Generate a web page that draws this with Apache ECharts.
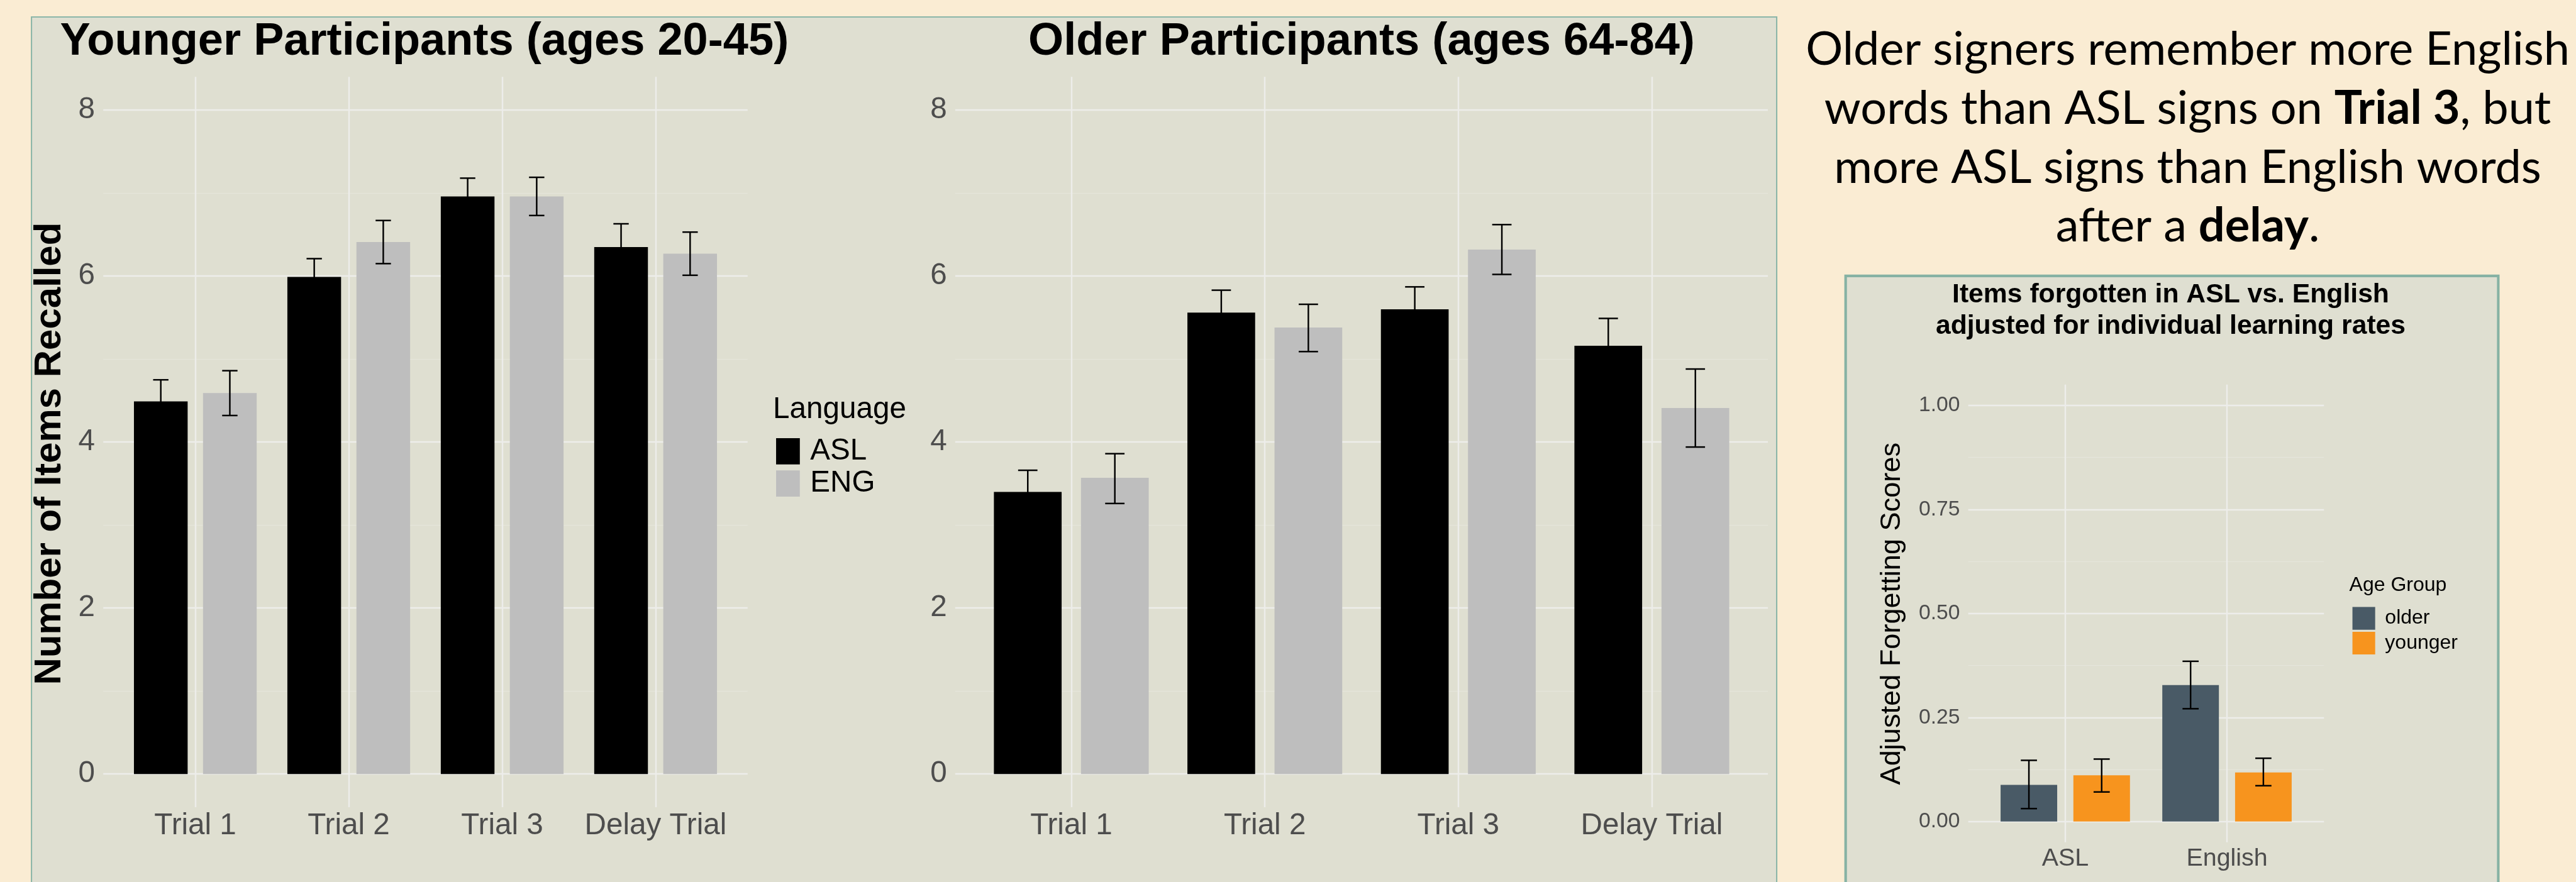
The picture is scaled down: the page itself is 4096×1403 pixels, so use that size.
<!DOCTYPE html>
<html>
<head>
<meta charset="utf-8">
<title>Items recalled in ASL and English</title>
<script src="https://cdn.jsdelivr.net/npm/echarts@6/dist/echarts.min.js"></script>
<style>
  html, body { margin: 0; padding: 0; background: #faecd3; }
  #chart { width: 4096px; height: 1403px; }
</style>
</head>
<body>
<div id="chart"></div>
<script>
// everything was measured on the 4989px wide reference, then scaled
const S = 0.821;
const FONT = '"Liberation Sans", Arial, Helvetica, sans-serif';
const NOTE_FONT = 'Lato, "Open Sans", sans-serif';

const trials = ['Trial 1', 'Trial 2', 'Trial 3', 'Delay Trial'];
const languages = ['ASL', 'ENG'];
const yTicks = [0, 2, 4, 6, 8];
const yMinorTicks = [1, 3, 5, 7];

// younger participants (ages 20-45)
const youngASL = [4.49, 5.99, 6.96, 6.35];
const youngASLLo = [4.23, 5.77, 6.74, 6.07];
const youngASLHi = [4.75, 6.21, 7.18, 6.63];
const youngENG = [4.59, 6.41, 6.96, 6.27];
const youngENGLo = [4.32, 6.15, 6.73, 6.01];
const youngENGHi = [4.86, 6.67, 7.19, 6.53];

// older participants (ages 64-84)
const oldASL = [3.40, 5.56, 5.60, 5.16];
const oldASLLo = [3.14, 5.29, 5.33, 4.83];
const oldASLHi = [3.66, 5.83, 5.87, 5.49];
const oldENG = [3.57, 5.38, 6.32, 4.41];
const oldENGLo = [3.26, 5.09, 6.02, 3.94];
const oldENGHi = [3.86, 5.66, 6.62, 4.88];

// inset: adjusted forgetting scores
const languageGroups = ['ASL', 'English'];
const ageGroups = ['older', 'younger'];
const forgetTicks = [0, 0.25, 0.5, 0.75, 1];
const forgetMinorTicks = [0.125, 0.375, 0.625, 0.875];
const forgetOlder = [0.088, 0.328];
const forgetOlderLo = [0.031, 0.271];
const forgetOlderHi = [0.147, 0.385];
const forgetYounger = [0.111, 0.118];
const forgetYoungerLo = [0.071, 0.086];
const forgetYoungerHi = [0.150, 0.152];

const noteLines = [
  [['Older signers remember more English', false]],
  [['words than ASL signs on ', false], ['Trial 3', true], [', but', false]],
  [['more ASL signs than English words', false]],
  [['after a ', false], ['delay', true], ['.', false]],
];

const GRID_MAJOR = '#ededea';
const GRID_MINOR = '#e6e6dc';
const TICK_COLOR = '#4d4d4d';
const PANEL_FILL = '#dfdfd1';
const PANEL_EDGE = '#8bb6a8';

const s = (v) => v * S;

function xAxisFor(gridIndex, cats, fontSize, labelGap) {
  const pos = cats.map((c, i) => i + 1);
  return {
    type: 'value',
    gridIndex,
    min: 0.4,
    max: cats.length + 0.6,
    axisLine: { show: false },
    axisTick: { show: false, customValues: pos },
    axisLabel: {
      customValues: pos,
      formatter: (v) => cats[Math.round(v) - 1],
      color: TICK_COLOR,
      fontFamily: FONT,
      fontSize: s(fontSize),
      lineHeight: s(fontSize),
      margin: s(labelGap - fontSize / 2),
    },
    splitLine: { show: true, lineStyle: { color: GRID_MAJOR, width: s(3) } },
  };
}

function yAxisFor(gridIndex, min, max, ticks, fontSize, fmt) {
  return {
    type: 'value',
    gridIndex,
    min,
    max,
    axisLine: { show: false },
    axisTick: { show: false, customValues: ticks },
    axisLabel: {
      customValues: ticks,
      formatter: fmt,
      color: TICK_COLOR,
      fontFamily: FONT,
      fontSize: s(fontSize),
      margin: s(16),
    },
    splitLine: { show: true, lineStyle: { color: GRID_MAJOR, width: s(3) } },
  };
}

function minorAxisFor(gridIndex, min, max, ticks) {
  return {
    type: 'value',
    gridIndex,
    min,
    max,
    position: 'left',
    axisLine: { show: false },
    axisTick: { show: false, customValues: ticks },
    axisLabel: { show: false, customValues: ticks },
    splitLine: { show: true, lineStyle: { color: GRID_MINOR, width: s(1.5) } },
  };
}

function errorBarItem(params, api) {
  const x = api.value(0);
  const lo = api.value(1);
  const hi = api.value(2);
  const a = api.coord([x, hi]);
  const b = api.coord([x, lo]);
  const tl = api.coord([x - 0.05, hi]);
  const tr = api.coord([x + 0.05, hi]);
  const bl = api.coord([x - 0.05, lo]);
  const br = api.coord([x + 0.05, lo]);
  const style = { stroke: '#000', lineWidth: s(3), fill: null };
  return {
    type: 'group',
    children: [
      { type: 'line', shape: { x1: a[0], y1: a[1], x2: b[0], y2: b[1] }, style },
      { type: 'line', shape: { x1: tl[0], y1: tl[1], x2: tr[0], y2: tr[1] }, style },
      { type: 'line', shape: { x1: bl[0], y1: bl[1], x2: br[0], y2: br[1] }, style },
    ],
  };
}

function barSeries(name, axis, values, color) {
  return {
    name,
    type: 'bar',
    xAxisIndex: axis,
    yAxisIndex: axis,
    data: values.map((v, i) => [i + 1, v]),
    barWidth: '35%',
    barGap: '28.6%',
    itemStyle: { color },
    silent: true,
    animation: false,
  };
}

function errorSeries(axis, offset, lo, hi) {
  return {
    type: 'custom',
    name: 'err',
    xAxisIndex: axis,
    yAxisIndex: axis,
    renderItem: errorBarItem,
    encode: { x: 0, y: [1, 2] },
    data: lo.map((v, i) => [i + 1 + offset, v, hi[i]]),
    z: 5,
    silent: true,
    animation: false,
  };
}

function label(text, x, y, size, weight, align, rotation) {
  return {
    type: 'text',
    x: s(x),
    y: s(y),
    rotation: rotation || 0,
    silent: true,
    style: {
      text,
      fill: '#000',
      fontFamily: FONT,
      fontSize: s(size),
      fontWeight: weight,
      align: align,
      verticalAlign: 'middle',
    },
  };
}

const noteRich = {
  n: { fontFamily: NOTE_FONT, fontSize: s(90), fontWeight: 'normal', color: '#595959' },
  b: { fontFamily: NOTE_FONT, fontSize: s(90), fontWeight: 'bold', color: '#595959' },
};
const noteY = [97, 211, 325, 439];

const graphics = [
  {
    type: 'rect', z: -10, silent: true,
    shape: { x: s(61), y: s(33), width: s(3380), height: s(1800) },
    style: { fill: PANEL_FILL, stroke: PANEL_EDGE, lineWidth: s(2.5) },
  },
  {
    type: 'rect', z: -10, silent: true,
    shape: { x: s(3574.5), y: s(534.5), width: s(1264), height: s(1300) },
    style: { fill: PANEL_FILL, stroke: '#86b2a4', lineWidth: s(5) },
  },
  label('Younger Participants (ages 20-45)', 822, 82, 88, 'bold', 'center'),
  label('Older Participants (ages 64-84)', 2637, 82, 88, 'bold', 'center'),
  label('Number of Items Recalled', 97, 879, 73, 'bold', 'center', Math.PI / 2),
  label('Language', 1497, 794, 58, 'normal', 'left'),
  label('Items forgotten in ASL vs. English', 4204, 571, 52, 'bold', 'center'),
  label('adjusted for individual learning rates', 4204, 633, 52, 'bold', 'center'),
  label('Adjusted Forgetting Scores', 3665, 1189, 55, 'normal', 'center', Math.PI / 2),
  label('Age Group', 4550, 1134, 39, 'normal', 'left'),
];
noteLines.forEach((segs, i) => {
  graphics.push({
    type: 'text',
    x: s(4237),
    y: s(noteY[i]),
    silent: true,
    style: {
      text: segs.map(([t, b]) => '{' + (b ? 'b' : 'n') + '|' + t + '}').join(''),
      rich: noteRich,
      align: 'center',
      verticalAlign: 'middle',
    },
  });
});

const chart = echarts.init(document.getElementById('chart'));

chart.setOption({
  backgroundColor: '#faecd3',
  animation: false,
  textStyle: { fontFamily: FONT },
  grid: [
    { left: s(200), top: s(149), width: s(1248), height: s(1415) },
    { left: s(1850), top: s(149), width: s(1574), height: s(1415) },
    { left: s(3812), top: s(745), width: s(689), height: s(887) },
  ],
  xAxis: [
    xAxisFor(0, trials, 58, 36),
    xAxisFor(1, trials, 58, 36),
    xAxisFor(2, languageGroups, 48, 32),
  ],
  yAxis: [
    yAxisFor(0, -0.4, 8.4, yTicks, 58, (v) => String(v)),
    yAxisFor(1, -0.4, 8.4, yTicks, 58, (v) => String(v)),
    yAxisFor(2, -0.05, 1.05, forgetTicks, 41, (v) => v.toFixed(2)),
    minorAxisFor(0, -0.4, 8.4, yMinorTicks),
    minorAxisFor(1, -0.4, 8.4, yMinorTicks),
    minorAxisFor(2, -0.05, 1.05, forgetMinorTicks),
  ],
  legend: [
    {
      data: languages,
      orient: 'vertical',
      left: s(1497),
      top: s(839),
      icon: 'rect',
      itemWidth: s(46),
      itemHeight: s(51),
      itemGap: s(4),
      selectedMode: false,
      textStyle: {
        fontFamily: FONT, fontSize: s(58), color: '#000',
        lineHeight: s(51), padding: [0, 0, 0, s(14)],
      },
    },
    {
      data: ageGroups,
      orient: 'vertical',
      left: s(4550),
      top: s(1170),
      icon: 'rect',
      itemWidth: s(44),
      itemHeight: s(44),
      itemGap: s(4),
      selectedMode: false,
      textStyle: {
        fontFamily: FONT, fontSize: s(39), color: '#000',
        lineHeight: s(44), padding: [0, 0, 0, s(13)],
      },
    },
  ],
  graphic: { elements: graphics },
  series: [
    barSeries('ASL', 0, youngASL, '#000000'),
    barSeries('ENG', 0, youngENG, '#bebebe'),
    errorSeries(0, -0.225, youngASLLo, youngASLHi),
    errorSeries(0, 0.225, youngENGLo, youngENGHi),
    barSeries('ASL', 1, oldASL, '#000000'),
    barSeries('ENG', 1, oldENG, '#bebebe'),
    errorSeries(1, -0.225, oldASLLo, oldASLHi),
    errorSeries(1, 0.225, oldENGLo, oldENGHi),
    barSeries('older', 2, forgetOlder, '#495a66'),
    barSeries('younger', 2, forgetYounger, '#f7941e'),
    errorSeries(2, -0.225, forgetOlderLo, forgetOlderHi),
    errorSeries(2, 0.225, forgetYoungerLo, forgetYoungerHi),
  ],
});

window.addEventListener('resize', () => chart.resize());
</script>
</body>
</html>
